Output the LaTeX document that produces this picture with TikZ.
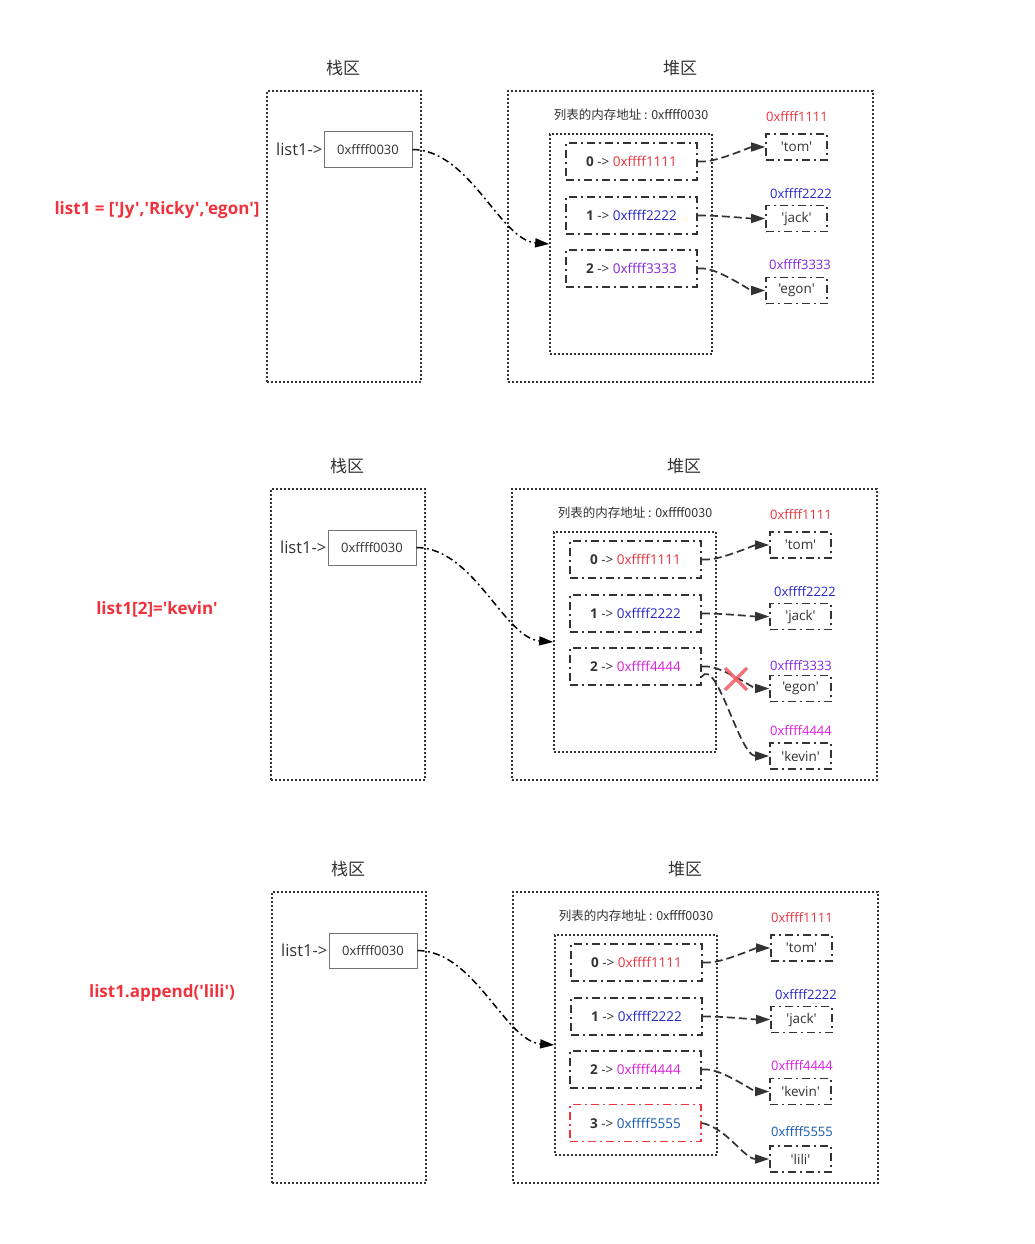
\documentclass[tikz,border=0pt]{standalone}
\usepackage{fontspec}
\newfontfamily\os{Open Sans}
\newfontfamily\cjk{Noto Sans CJK SC}
\usetikzlibrary{arrows.meta}
\definecolor{cA}{RGB}{232,52,64}
\definecolor{cB}{RGB}{40,40,200}
\definecolor{cC}{RGB}{130,40,220}
\definecolor{cD}{RGB}{220,30,220}
\definecolor{cE}{RGB}{20,90,170}
\definecolor{cR}{RGB}{240,50,60}
\definecolor{ink}{RGB}{51,51,51}
\tikzset{
  x=1pt, y=-1pt,
  every node/.style={font=\os},
  region/.style={draw=ink, line width=1.7pt, dash pattern=on 1.7pt off 2.3pt, inner sep=0pt},
  listbox/.style={draw=ink, line width=1.7pt, dash pattern=on 1.7pt off 2.3pt, inner sep=0pt},
  title/.style={font=\cjk\fontsize{17}{19}\selectfont, text=ink},
  addrbox/.style={draw=black!55, line width=1pt, minimum width=88, minimum height=35, inner sep=0pt, font=\os\fontsize{13}{15}\selectfont, text=ink},
  elem/.style={draw=ink, line width=1.6pt, dash pattern=on 8pt off 4pt on 2pt off 4pt, minimum width=131, minimum height=37, inner sep=0pt, font=\os\fontsize{13.5}{15}\selectfont, text=ink},
  redelem/.style={elem, draw=cR},
  tgt/.style={draw=ink, line width=1.6pt, dash pattern=on 8pt off 4pt on 2pt off 4pt, minimum width=61, minimum height=26, inner sep=0pt, font=\os\fontsize{13.5}{15}\selectfont, text=ink},
  tlabel/.style={font=\os\fontsize{13}{15}\selectfont},
  ptr/.style={draw=ink, line width=1.7pt, dash pattern=on 8pt off 4pt, -{Triangle[length=14pt,width=9pt]}},
  stackptr/.style={draw=black, line width=1.5pt, dash pattern=on 7pt off 3.5pt on 1.8pt off 3.5pt, -{Triangle[length=14pt,width=9pt]}},
  codelabel/.style={font=\os\bfseries\fontsize{17}{19}\selectfont, text=cR},
  cross/.style={draw=cR!80, line width=3.5pt, opacity=0.85}
}
\newcommand\panel[3]{%
\begin{scope}[shift={(#2,#3)}]
\node[title] (#1ts) at (343,68) {栈区};
\node[title] (#1th) at (680,68) {堆区};
\node[region, minimum width=154, minimum height=291] (#1S) at (344,236.5) {};
\node[region, minimum width=365, minimum height=291] (#1H) at (690.5,236.5) {};
\node[addrbox] (#1A) at (368,149.5) {0xffff0030};
\node[anchor=east, font=\os\fontsize{16.5}{18}\selectfont, text=ink, inner sep=1pt] (#1n) at (#1A.west) {list1->};
\node[font=\cjk\fontsize{12.5}{14}\selectfont, text=ink] (#1il) at (631,115) {列表的内存地址 : 0xffff0030};
\node[listbox, minimum width=162, minimum height=220] (#1L) at (631,244) {};
\node[elem] (#1e0) at (631.5,161.5) {\textbf{0} -> \textcolor{cA}{0xffff1111}};
\node[elem] (#1e1) at (631.5,215.5) {\textbf{1} -> \textcolor{cB}{0xffff2222}};
\node[tgt] (#1t0) at (796.5,147) {'tom'};
\node[tgt] (#1t1) at (796.5,218.5) {'jack'};
\node[tlabel, text=cA] (#1l0) at (797,117) {0xffff1111};
\node[tlabel, text=cB] (#1l1) at (801,194) {0xffff2222};
\draw[stackptr] (#1A.east) .. controls (470,150) and (500,240) .. (#1L.west);
\draw[ptr] (#1e0.east) -- ++(5,0) .. controls +(15,0) and +(-15,0) .. (#1t0.west);
\draw[ptr] (#1e1.east) -- ++(5,0) .. controls +(15,0) and +(-15,0) .. (#1t1.west);
\end{scope}}
\begin{document}
\begin{tikzpicture}
\useasboundingbox (0,0) rectangle (1035,1244);
\fill[white] (0,0) rectangle (1035,1244);
% ---------- panel 1
\panel{a}{0}{0}
\node[codelabel] (code1) at (157,210) {list1 = ['Jy','Ricky','egon']};
\node[elem] (ae2) at (631.5,268.5) {\textbf{2} -> \textcolor{cC}{0xffff3333}};
\node[tgt] (at2) at (796.5,290.5) {'egon'};
\node[tlabel, text=cC] (al2) at (800,265) {0xffff3333};
\draw[ptr] (ae2.east) -- ++(5,0) .. controls +(15,0) and +(-15,0) .. (at2.west);
% ---------- panel 2
\panel{b}{4}{398}
\node[codelabel] (code2) at (157,609) {list1[2]='kevin'};
\begin{scope}[shift={(4,398)}]
\node[elem] (be2) at (631.5,268.5) {\textbf{2} -> \textcolor{cD}{0xffff4444}};
\node[tgt] (bt2) at (796.5,290.5) {'egon'};
\node[tlabel, text=cC] (bl2) at (797,268) {0xffff3333};
\node[tgt] (bt3) at (796.5,358) {'kevin'};
\node[tlabel, text=cD] (bl3) at (797,333) {0xffff4444};
\draw[ptr] (be2.east) -- ++(5,0) .. controls +(15,0) and +(-15,0) .. (bt2.west);
\draw[ptr] ([yshift=-10pt]be2.east) .. controls +(15,-20) and +(-30,0) .. (bt3.west);
\coordinate (bx) at (732,281);
\draw[cross] ([shift={(-11,-11)}]bx) -- ([shift={(11,11)}]bx);
\draw[cross] ([shift={(-11,11)}]bx) -- ([shift={(11,-11)}]bx);
\end{scope}
% ---------- panel 3
\panel{c}{5}{801}
\node[codelabel] (code3) at (162,993) {list1.append('lili')};
\begin{scope}[shift={(5,801)}]
\node[elem] (ce2) at (630.5,268.5) {\textbf{2} -> \textcolor{cD}{0xffff4444}};
\node[redelem] (ce3) at (630.5,322) {\textbf{3} -> \textcolor{cE}{0xffff5555}};
\node[tgt] (ct2) at (795.5,290.5) {'kevin'};
\node[tlabel, text=cD] (cl2) at (797,265) {0xffff4444};
\node[tgt] (ct3) at (795.5,358) {'lili'};
\node[tlabel, text=cE] (cl3) at (797,331) {0xffff5555};
\draw[ptr] (ce2.east) -- ++(5,0) .. controls +(15,0) and +(-15,0) .. (ct2.west);
\draw[ptr] (ce3.east) .. controls +(25,5) and +(-25,0) .. (ct3.west);
\end{scope}
\end{tikzpicture}
\end{document}
